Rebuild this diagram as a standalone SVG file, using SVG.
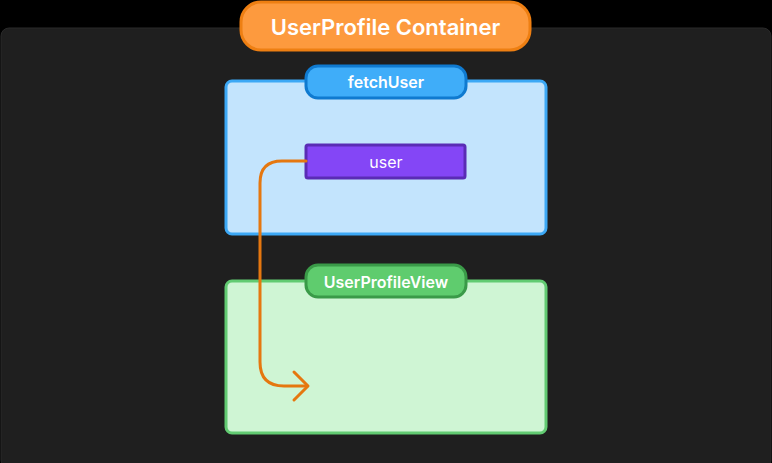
<svg xmlns="http://www.w3.org/2000/svg" width="772" height="463" viewBox="0 0 772 463">
<style>
text{font-family:Inter,"Liberation Sans",sans-serif;font-weight:600;text-anchor:middle;fill:#fff}
text.n{font-weight:400}
</style>
<rect width="772" height="463" fill="#000"/>
<g id="container">
<rect x="1" y="28" width="770" height="440" rx="8" fill="#1f1f1f" stroke="#2a2a2a"/>
<rect x="241" y="2" width="289" height="48" rx="20" fill="#fd9a3e" stroke="#ee7f12" stroke-width="3"/>
<text x="385.5" y="35" font-size="22">UserProfile Container</text>
</g>
<g id="fetchUser">
<rect x="226" y="81" width="320" height="153" rx="6" fill="#c3e4fd" stroke="#3ca8f5" stroke-width="3"/>
<rect x="306" y="66" width="160" height="32" rx="12" fill="#3fadf9" stroke="#0f7ad0" stroke-width="3"/>
<text x="386" y="88" font-size="16">fetchUser</text>
</g>
<g id="user">
<rect x="306" y="145" width="159" height="33" rx="2" fill="#8446f6" stroke="#5a2cb5" stroke-width="3"/>
<text class="n" x="386" y="168" font-size="16">user</text>
</g>
<g id="UserProfileView">
<rect x="226" y="281" width="320" height="152" rx="6" fill="#cff5d4" stroke="#62cb72" stroke-width="3"/>
<rect x="306" y="265" width="160" height="32" rx="12" fill="#5fcc6e" stroke="#3a9a48" stroke-width="3"/>
<text x="386" y="288" font-size="16">UserProfileView</text>
</g>
<g id="connectors" fill="none" stroke="#e5770f" stroke-width="3" stroke-linecap="round" stroke-linejoin="round">
<path d="M306 161 H282 Q260 161 260 183 V362 Q260 386 284 386 H307"/>
<path d="M294 372 L308 386 L294 400"/>
</g>
</svg>
